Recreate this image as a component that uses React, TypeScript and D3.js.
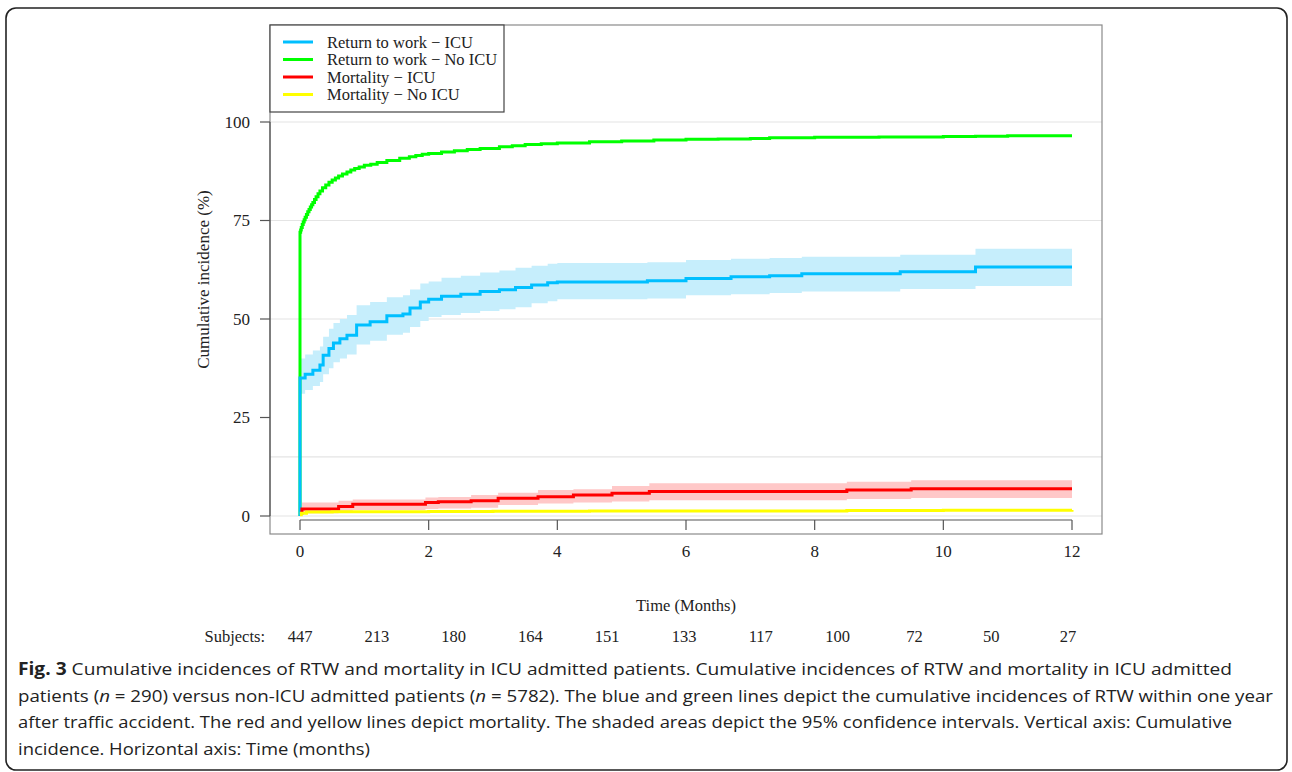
import React from "react";
import * as d3 from "d3";

// ---------- data ----------
const xTicks = [0, 2, 4, 6, 8, 10, 12];
const yTicks = [0, 25, 50, 75, 100];
const gridValues = [0, 15, 50, 75, 100];

const rtwNoIcuT = [0, 0, 0.01, 0.02, 0.035, 0.05, 0.065, 0.08, 0.1, 0.12, 0.14, 0.16, 0.18, 0.2, 0.225, 0.25, 0.28, 0.31, 0.35, 0.4, 0.45, 0.5, 0.55, 0.6, 0.66, 0.73, 0.79, 0.85, 0.92, 1.0, 1.1, 1.2, 1.35, 1.55, 1.7, 1.8, 1.9, 2.0, 2.2, 2.4, 2.6, 2.8, 3.1, 3.3, 3.5, 3.75, 4.0, 4.5, 5.0, 5.5, 6.0, 6.5, 7.0, 7.3, 8.0, 9.0, 10.0, 10.5, 11.0, 12];
const rtwNoIcuV = [0, 72, 72.6, 73.2, 74, 74.6, 75.2, 75.8, 76.5, 77.2, 77.8, 78.4, 79, 79.6, 80.3, 81, 81.8, 82.5, 83.3, 84, 84.7, 85.3, 85.8, 86.3, 86.8, 87.3, 87.8, 88.2, 88.6, 89, 89.3, 89.7, 90.2, 90.8, 91.2, 91.5, 91.8, 92, 92.4, 92.7, 93, 93.3, 93.7, 94, 94.3, 94.5, 94.7, 95, 95.2, 95.4, 95.6, 95.7, 95.8, 96.0, 96.1, 96.2, 96.3, 96.4, 96.5, 96.5];

const rtwIcuT = [0, 0.08, 0.2, 0.31, 0.36, 0.45, 0.52, 0.62, 0.73, 0.88, 1.09, 1.35, 1.6, 1.71, 1.87, 2.0, 2.2, 2.5, 2.8, 3.1, 3.35, 3.6, 3.85, 4.0, 5.4, 6.0, 6.7, 7.3, 7.8, 9.33, 10.5, 12];
const rtwIcuV = [35, 36, 37, 38.3, 40.8, 42.5, 43.9, 45, 45.9, 48.5, 49.3, 50.8, 51.3, 52.8, 54.3, 55, 55.8, 56.3, 57, 57.4, 58, 58.6, 59.2, 59.4, 59.7, 60.3, 60.7, 61, 61.5, 62, 63.2, 63.2];
const rtwIcuLo = [31, 32, 33, 34, 36, 37.5, 39, 40, 41, 43.5, 44.5, 46, 46.5, 48, 49.5, 50.5, 51, 51.5, 52, 52.5, 53, 54, 54.5, 55, 55.2, 56, 56.3, 56.6, 57, 57.6, 58.4, 58.4];
const rtwIcuHi = [40, 41, 42, 43, 45.5, 47.5, 49, 50, 51, 53.5, 54.3, 55.5, 56, 57.5, 59, 59.5, 60.5, 61, 61.8, 62.3, 63, 63.5, 64, 64.2, 64.4, 65, 65.3, 65.5, 65.8, 66.3, 67.8, 67.8];

const mortIcuT = [0, 0.03, 0.6, 0.82, 1.95, 2.15, 2.66, 3.08, 3.7, 4.25, 4.85, 5.43, 8.5, 9.5, 12];
const mortIcuV = [0.7, 1.8, 2.4, 3.0, 3.4, 3.6, 3.9, 4.5, 4.9, 5.3, 5.8, 6.2, 6.6, 6.9, 6.9];
const mortIcuLo = [0.2, 0.7, 1.0, 1.5, 1.8, 1.9, 2.1, 2.8, 3.2, 3.4, 3.7, 4.0, 4.3, 4.6, 4.6];
const mortIcuHi = [1.5, 3.4, 3.9, 4.2, 4.7, 4.8, 5.3, 5.9, 6.6, 6.8, 7.6, 8.3, 8.7, 9.1, 9.1];

const mortNoIcuT = [0, 0.02, 0.1, 0.5, 1, 2, 3, 4.5, 6, 8.5, 10, 12];
const mortNoIcuV = [0.3, 0.7, 1.0, 1.05, 1.1, 1.15, 1.2, 1.25, 1.3, 1.4, 1.45, 1.5];

const legendLabels = ["Return to work \u2212 ICU", "Return to work \u2212 No ICU", "Mortality \u2212 ICU", "Mortality \u2212 No ICU"];
const legendColors = ["#00BFFF", "#00FF00", "#FF0000", "#FFFF00"];

const subjects = [447, 213, 180, 164, 151, 133, 117, 100, 72, 50, 27];

const captionLines = [
  "Cumulative incidences of RTW and mortality in ICU admitted patients. Cumulative incidences of RTW and mortality in ICU admitted",
  "patients (|n| = 290) versus non-ICU admitted patients (|n| = 5782). The blue and green lines depict the cumulative incidences of RTW within one year",
  "after traffic accident. The red and yellow lines depict mortality. The shaded areas depict the 95% confidence intervals. Vertical axis: Cumulative",
  "incidence. Horizontal axis: Time (months)",
];
const captionWidths = [1214, 1255, 1214, 352];

// ---------- layout ----------
const W = 1292, H = 772;
const box = { l: 270, r: 1102, t: 25, b: 534 };
const serif = "'Liberation Serif', 'Times New Roman', serif";

export default function App() {
  const x = d3.scaleLinear().domain([0, 12]).range([300, 1072]);
  const y = d3.scaleLinear().domain([0, 100]).range([516, 122]);

  const line = (ts: number[], vs: number[]) =>
    d3.line<number>().x((_, i) => x(ts[i])).y((v) => y(v)).curve(d3.curveStepAfter)(vs) || "";
  const area = (ts: number[], lo: number[], hi: number[]) =>
    d3.area<number>().x((_, i) => x(ts[i])).y0((_, i) => y(lo[i])).y1((v) => y(v)).curve(d3.curveStepAfter)(hi) || "";

  const subjX = d3.scaleLinear().domain([0, subjects.length - 1]).range([x(0), x(12) - 4]);

  return (
    <div style={{ position: "absolute", left: 0, top: 0 }}>
      <svg width={W} height={H} style={{ display: "block" }}>
        <rect x={0} y={0} width={W} height={H} fill="#fff" />
        <rect x={6} y={8} width={1281} height={762} rx={10} ry={10} fill="none" stroke="#222" strokeWidth={1.6} />

        {/* grid */}
        {gridValues.map((g) => (
          <line key={g} x1={box.l} x2={box.r} y1={y(g)} y2={y(g)} stroke="#e4e4e4" strokeWidth={1.2} />
        ))}

        {/* plot box */}
        <rect x={box.l} y={box.t} width={box.r - box.l} height={box.b - box.t} fill="none" stroke="#8a8a8a" strokeWidth={1.2} />

        {/* CI bands */}
        <path d={area(rtwIcuT, rtwIcuLo, rtwIcuHi)} fill="#c6eefc" />
        <path d={area(mortIcuT, mortIcuLo, mortIcuHi)} fill="#ffc8c8" />

        {/* lines */}
        <path d={line(rtwNoIcuT, rtwNoIcuV)} fill="none" stroke="#00FF00" strokeWidth={3} />
        <path d={line([0, ...rtwIcuT], [0, ...rtwIcuV])} fill="none" stroke="#00BFFF" strokeWidth={3} />
        <path d={line(mortIcuT, mortIcuV)} fill="none" stroke="#FF0000" strokeWidth={3} />
        <path d={line(mortNoIcuT, mortNoIcuV)} fill="none" stroke="#FFFF00" strokeWidth={3} />

        {/* y axis */}
        <line x1={box.l} x2={box.l} y1={y(0)} y2={y(100)} stroke="#555" strokeWidth={1.2} />
        {yTicks.map((t) => (
          <g key={t}>
            <line x1={260} x2={box.l} y1={y(t)} y2={y(t)} stroke="#555" strokeWidth={1.2} />
            <text x={250} y={y(t)} dy="0.35em" textAnchor="end" fontFamily={serif} fontSize={17} fill="#222">{t}</text>
          </g>
        ))}
        <text transform={`translate(203,${(box.t + box.b) / 2}) rotate(-90)`} textAnchor="middle" dy="0.35em" fontFamily={serif} fontSize={17} fill="#222">
          Cumulative incidence (%)
        </text>

        {/* x axis */}
        <line x1={x(0)} x2={x(12)} y1={520} y2={520} stroke="#555" strokeWidth={1.2} />
        {xTicks.map((t) => (
          <g key={t}>
            <line x1={x(t)} x2={x(t)} y1={520} y2={530} stroke="#555" strokeWidth={1.2} />
            <text x={x(t)} y={551} dy="0.35em" textAnchor="middle" fontFamily={serif} fontSize={17} fill="#222">{t}</text>
          </g>
        ))}
        <text x={(box.l + box.r) / 2} y={605} dy="0.35em" textAnchor="middle" fontFamily={serif} fontSize={16.5} fill="#222">
          Time (Months)
        </text>

        {/* subjects */}
        <text x={265} y={636} dy="0.35em" textAnchor="end" fontFamily={serif} fontSize={16.5} fill="#222">Subjects:</text>
        {subjects.map((s, i) => (
          <text key={i} x={subjX(i)} y={636} dy="0.35em" textAnchor="middle" fontFamily={serif} fontSize={16.5} fill="#222">{s}</text>
        ))}

        {/* legend */}
        <rect x={box.l} y={box.t} width={234} height={87} fill="#fff" stroke="#444" strokeWidth={1.2} />
        {legendLabels.map((lab, i) => (
          <g key={lab}>
            <line x1={283} x2={313} y1={42 + i * 17.5} y2={42 + i * 17.5} stroke={legendColors[i]} strokeWidth={3} />
            <text x={327} y={42 + i * 17.5} dy="0.35em" fontFamily={serif} fontSize={16.5} fill="#222">{lab}</text>
          </g>
        ))}

        {/* caption */}
        {captionLines.map((ln, i) => {
          const parts = ln.split("|");
          return (
            <text key={i} x={18} y={675 + i * 26.5} fontFamily="'Open Sans', 'Noto Sans', sans-serif" fontSize={17} fill="#222"
              textLength={captionWidths[i]} lengthAdjust="spacingAndGlyphs">
              {i === 0 && <tspan fontWeight="bold">Fig. 3 </tspan>}
              {parts.map((p, j) => (
                <tspan key={j} fontStyle={j % 2 === 1 ? "italic" : "normal"}>{p}</tspan>
              ))}
            </text>
          );
        })}
      </svg>
    </div>
  );
}
